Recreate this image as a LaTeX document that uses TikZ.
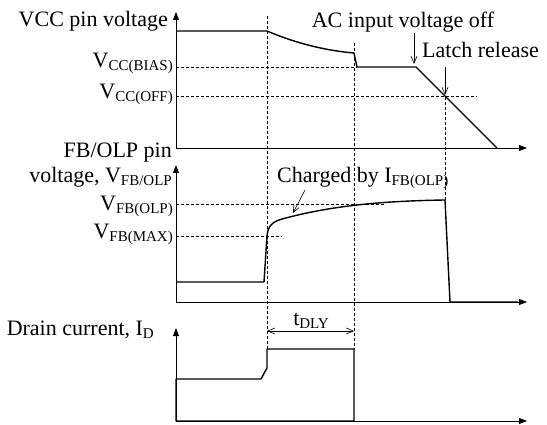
\documentclass[tikz,border=0pt]{standalone}
\usepackage{fontspec}
\setmainfont{Liberation Serif}
\usetikzlibrary{arrows.meta, positioning, calc}
\newcommand{\sub}[1]{\raisebox{-3pt}{\fontsize{15}{15}\selectfont #1}}

\begin{document}
\begin{tikzpicture}[x=1pt, y=-1pt,
    axis/.style={line width=0.8pt, -{Triangle[length=8pt, width=6pt]}},
    trace/.style={line width=1.4pt, line join=round},
    guide/.style={line width=0.6pt, dash pattern=on 3pt off 2pt},
    note/.style={line width=0.6pt, -{Straight Barb[length=7pt, width=6pt]}},
    lbl/.style={inner sep=0pt, font=\fontsize{22}{25}\selectfont}]
    \useasboundingbox (0,0) rectangle (547,425);

    % Axes (top, middle, bottom)
    \foreach \ytop/\ybot in {12/148, 165/302, 328/421} {
        \draw[axis] (176,\ybot) -- (176,\ytop);
        \draw[axis] (176,\ybot) -- (527,\ybot);
    }

    % Dashed guides
    \draw[guide] (176,67) -- (357,67);
    \draw[guide] (176,96) -- (477,96);
    \draw[guide] (176,204) -- (385,204);
    \draw[guide] (176,236) -- (282,236);
    \draw[guide] (267,16) -- (267,349);
    \draw[guide] (354,43) -- (354,349);
    \draw[guide] (445,97) -- (445,200);

    % VCC pin voltage
    \draw[trace] (176,31) -- (267,31) .. controls (300,45) and (330,51) .. (354,53)
        -- (357,67) -- (416,67) -- (497,148);
    \node[lbl, anchor=base east] (vcc) at (168,27) {VCC pin voltage};
    \node[lbl, anchor=base east] (vbias) at (173,68) {V\sub{CC(BIAS)}};
    \node[lbl, anchor=base east] (voff) at (173,99) {V\sub{CC(OFF)}};

    % FB/OLP pin voltage
    \draw[trace] (176,282) -- (264,282) -- (267,236) .. controls (268,226) and (272,222) .. (282,219)
        .. controls (330,206) and (380,201) .. (445,200) -- (450,302) -- (518,302);
    \node[lbl, anchor=base east, align=right] (vfb) at (172,183) {FB/OLP pin\\voltage, V\sub{FB/OLP}};
    \node[lbl, anchor=base east] (vfbolp) at (173,211) {V\sub{FB(OLP)}};
    \node[lbl, anchor=base east] (vfbmax) at (173,239) {V\sub{FB(MAX)}};

    % Drain current
    \draw[trace] (176,421) -- (176,379) -- (261,379) -- (267,368) -- (267,349)
        -- (354,349) -- (354,421) -- cycle;
    \node[lbl, anchor=base east] (id) at (154,335) {Drain current, I\sub{D}};

    % Annotations
    \node[lbl, anchor=base] (acoff) at (403,28) {AC input voltage off};
    \coordinate (acoffend) at (414,64);
    \draw[note] (acoff.south -| acoffend) -- (acoffend);

    \node[lbl, anchor=base west] (latch) at (422,58) {Latch release};
    \coordinate (latchend) at (445,95);
    \draw[note] (445,67) -- (latchend);

    \node[lbl, anchor=base west] (charged) at (277,183) {Charged by I\sub{FB(OLP)}};
    \coordinate (chargedend) at (293,213);
    \draw[note] (305,190) -- (chargedend);

    \node[lbl, anchor=base] (tdly) at (311,325) {t\sub{DLY}};
    \draw[line width=0.6pt, {Straight Barb[length=7pt, width=6pt]}-{Straight Barb[length=7pt, width=6pt]}]
        (267,331) -- (354,331);
\end{tikzpicture}
\end{document}
